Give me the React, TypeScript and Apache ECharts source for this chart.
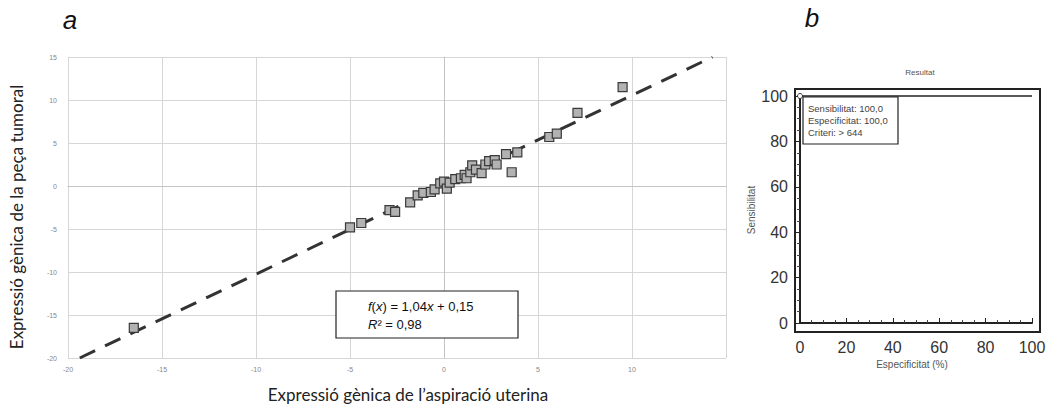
import { useEffect, useRef } from "react";
import * as echarts from "echarts";

// ---- Panel a: gene expression (aspiration vs tumour) ----
const scatterPoints: [number, number][] = [
  [-16.5, -16.5],
  [-5.0, -4.8],
  [-4.4, -4.3],
  [-2.9, -2.8],
  [-2.6, -3.0],
  [-1.8, -1.9],
  [-1.4, -1.1],
  [-1.1, -0.8],
  [-0.7, -0.7],
  [-0.5, -0.4],
  [-0.2, 0.3],
  [0.0, 0.5],
  [0.15, -0.3],
  [0.3, 0.4],
  [0.6, 0.8],
  [0.9, 0.9],
  [1.1, 1.3],
  [1.2, 0.9],
  [1.4, 1.6],
  [1.5, 2.4],
  [1.7, 1.9],
  [2.0, 1.5],
  [2.2, 2.5],
  [2.4, 2.9],
  [2.7, 3.0],
  [2.8, 2.5],
  [3.3, 3.7],
  [3.6, 1.6],
  [3.9, 3.9],
  [5.6, 5.7],
  [6.0, 6.1],
  [7.1, 8.5],
  [9.5, 11.5],
];
const FIT_SLOPE = 1.04;
const FIT_INTERCEPT = 0.15;
const leftXRange = [-20, 15];
const leftYRange = [-20, 15];
const leftStep = 5;
const fitLabelLines = ["{i|f}({i|x}) = 1,04{i|x} + 0,15", "{i|R}² = 0,98"];
const leftXTitle = "Expressió gènica de l’aspiració uterina";
const leftYTitle = "Expressió gènica de la peça tumoral";

// ---- Panel b: ROC ----
const rocCurve: [number, number][] = [
  [0, 100],
  [100, 100],
];
const rocRange = [0, 100];
const rocStep = 20;
const rocBoxLines = ["Sensibilitat: 100,0", "Especificitat: 100,0", "Criteri: > 644"];
const rocTitle = "Resultat";
const rocXTitle = "Especificitat (%)";
const rocYTitle = "Sensibilitat";
const panelLabels = ["a", "b"];

const fitLine: [number, number][] = [
  [(leftYRange[0] - FIT_INTERCEPT) / FIT_SLOPE, leftYRange[0]],
  [(leftYRange[1] - FIT_INTERCEPT) / FIT_SLOPE, leftYRange[1]],
];

export default function App() {
  const ref = useRef<HTMLDivElement>(null);
  useEffect(() => {
    if (!ref.current) return;
    const chart = echarts.init(ref.current, undefined, { renderer: "svg" });
    const gridGray = "#d6d6d6";
    const option: any = {
      animation: false,
      backgroundColor: "#ffffff",
      grid: [
        { left: 68, top: 57, width: 658, height: 301 },
        { left: 800, top: 96, width: 232, height: 227 },
      ],
      xAxis: [
        {
          type: "value",
          gridIndex: 0,
          min: leftXRange[0],
          max: leftXRange[1],
          interval: leftStep,
          axisLine: { show: true, lineStyle: { color: "#c4c4c4", width: 1 } },
          axisTick: { show: false },
          axisLabel: {
            fontSize: 7,
            color: "#888",
            margin: 8,
            fontFamily: "Liberation Sans, Arial",
            showMaxLabel: false,
          },
          splitLine: { show: true, lineStyle: { color: gridGray, width: 1 } },
        },
        {
          type: "value",
          gridIndex: 1,
          min: rocRange[0],
          max: rocRange[1],
          interval: rocStep,
          offset: 9,
          axisLine: { show: true, lineStyle: { color: "#222", width: 2 } },
          axisTick: { show: true, inside: true, length: 5, lineStyle: { color: "#222" } },
          minorTick: { show: true, splitNumber: 4, length: 3, lineStyle: { color: "#444" } },
          axisLabel: {
            fontSize: 16,
            color: "#333",
            margin: 7,
            fontFamily: "Liberation Sans, Arial",
          },
          splitLine: { show: false },
        },
      ],
      yAxis: [
        {
          type: "value",
          gridIndex: 0,
          min: leftYRange[0],
          max: leftYRange[1],
          interval: leftStep,
          axisLine: { show: true, lineStyle: { color: "#c4c4c4", width: 1 } },
          axisTick: { show: false },
          axisLabel: {
            fontSize: 7,
            color: "#888",
            margin: 11,
            fontFamily: "Liberation Sans, Arial",
          },
          splitLine: { show: true, lineStyle: { color: gridGray, width: 1 } },
        },
        {
          type: "value",
          gridIndex: 1,
          min: rocRange[0],
          max: rocRange[1],
          interval: rocStep,
          offset: 5,
          axisLine: { show: true, lineStyle: { color: "#222", width: 2 } },
          axisTick: { show: true, inside: false, length: 5, lineStyle: { color: "#222" } },
          minorTick: { show: true, splitNumber: 4, length: 3, lineStyle: { color: "#444" } },
          axisLabel: {
            fontSize: 16,
            color: "#333",
            margin: 7,
            fontFamily: "Liberation Sans, Arial",
          },
          splitLine: { show: false },
        },
      ],
      series: [
        {
          type: "line",
          xAxisIndex: 0,
          yAxisIndex: 0,
          data: fitLine,
          showSymbol: false,
          symbol: "none",
          lineStyle: { color: "#333", width: 3, type: [17, 11] },
          z: 2,
          silent: true,
        },
        {
          type: "scatter",
          xAxisIndex: 0,
          yAxisIndex: 0,
          data: scatterPoints,
          symbol: "rect",
          symbolSize: 9,
          itemStyle: { color: "#b2b2b2", borderColor: "#3a3a3a", borderWidth: 1.2, opacity: 1 },
          z: 3,
        },
        {
          type: "line",
          xAxisIndex: 1,
          yAxisIndex: 1,
          clip: false,
          data: rocCurve.map((p, i) =>
            i === 0 ? { value: p, symbol: "circle", symbolSize: 5 } : { value: p, symbol: "none" }
          ),
          showAllSymbol: true,
          itemStyle: { color: "#fff", borderColor: "#333", borderWidth: 1 },
          lineStyle: { color: "#222", width: 1.5 },
          z: 3,
        },
      ],
      graphic: [
        {
          type: "text",
          x: 70,
          y: 20,
          style: {
            text: panelLabels[0],
            font: "italic 26px 'Liberation Sans', Arial",
            fill: "#111",
            align: "center",
            verticalAlign: "middle",
          },
        },
        {
          type: "text",
          x: 812,
          y: 18,
          style: {
            text: panelLabels[1],
            font: "italic 26px 'Liberation Sans', Arial",
            fill: "#111",
            align: "center",
            verticalAlign: "middle",
          },
        },
        {
          type: "text",
          x: 16,
          y: 217,
          rotation: Math.PI / 2,
          style: {
            text: leftYTitle,
            font: "17px Lato, 'Open Sans', sans-serif",
            fill: "#222",
            align: "center",
            verticalAlign: "middle",
          },
        },
        {
          type: "text",
          x: 408,
          y: 394,
          style: {
            text: leftXTitle,
            font: "17px Lato, 'Open Sans', sans-serif",
            fill: "#222",
            align: "center",
            verticalAlign: "middle",
          },
        },
        {
          type: "rect",
          shape: { x: 336, y: 291, width: 182, height: 47 },
          style: { fill: "#fff", stroke: "#222", lineWidth: 1.2 },
          z: 10,
        },
        ...fitLabelLines.map((t, i) => ({
          type: "text",
          x: 368,
          y: 306 + i * 18,
          z: 11,
          style: {
            text: t,
            fontSize: 13,
            fontFamily: "'Liberation Sans', Arial",
            fill: "#111",
            verticalAlign: "middle",
            rich: {
              i: { fontStyle: "italic", fontSize: 13, fontFamily: "'Liberation Sans', Arial", fill: "#111" },
            },
          },
        })),
        {
          type: "rect",
          shape: { x: 795, y: 89, width: 245, height: 243 },
          style: { fill: "none", stroke: "#222", lineWidth: 2 },
          z: 5,
        },
        {
          type: "text",
          x: 920,
          y: 72,
          style: {
            text: rocTitle,
            fontSize: 8,
            fontFamily: "'Liberation Sans', Arial",
            fill: "#555",
            align: "center",
            verticalAlign: "middle",
          },
        },
        {
          type: "text",
          x: 751,
          y: 210,
          rotation: Math.PI / 2,
          style: {
            text: rocYTitle,
            fontSize: 10,
            fontFamily: "'Liberation Sans', Arial",
            fill: "#555",
            align: "center",
            verticalAlign: "middle",
          },
        },
        {
          type: "text",
          x: 912,
          y: 364,
          style: {
            text: rocXTitle,
            fontSize: 10,
            fontFamily: "'Liberation Sans', Arial",
            fill: "#555",
            align: "center",
            verticalAlign: "middle",
          },
        },
        {
          type: "rect",
          shape: { x: 803, y: 97, width: 95, height: 47 },
          style: { fill: "#fff", stroke: "#222", lineWidth: 1.2 },
          z: 10,
        },
        ...rocBoxLines.map((t, i) => ({
          type: "text",
          x: 808,
          y: 108 + i * 12,
          z: 11,
          style: {
            text: t,
            fontSize: 9.5,
            fontFamily: "'Liberation Sans', Arial",
            fill: "#444",
            verticalAlign: "middle",
          },
        })),
      ],
    };
    chart.setOption(option);
    return () => chart.dispose();
  }, []);
  return (
    <div
      ref={ref}
      style={{ position: "fixed", left: 0, top: 0, width: 1055, height: 405, background: "#fff" }}
    />
  );
}
